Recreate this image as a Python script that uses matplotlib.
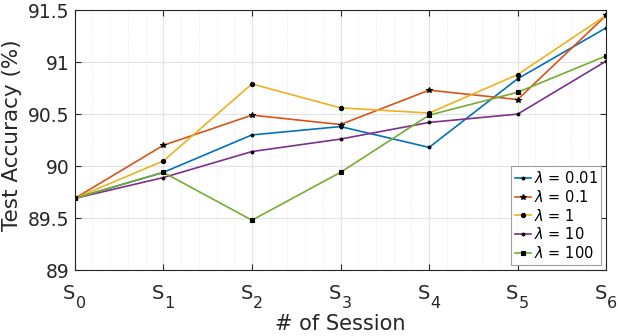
import numpy as np
import matplotlib
matplotlib.use("Agg")
import matplotlib.pyplot as plt
from matplotlib.ticker import MultipleLocator

# ---- Data -------------------------------------------------------------------
session_idx = ["0", "1", "2", "3", "4", "5", "6"]
acc_001 = [89.69, 89.94, 90.30, 90.38, 90.18, 90.84, 91.33]
acc_01  = [89.69, 90.20, 90.49, 90.40, 90.73, 90.64, 91.45]
acc_1   = [89.69, 90.05, 90.79, 90.56, 90.51, 90.88, 91.45]
acc_10  = [89.69, 89.89, 90.14, 90.26, 90.42, 90.50, 91.01]
acc_100 = [89.69, 89.94, 89.48, 89.94, 90.49, 90.71, 91.06]
yticks  = [89, 89.5, 90, 90.5, 91, 91.5]
ylabels = ["89", "89.5", "90", "90.5", "91", "91.5"]

# ---- Colours (MATLAB default order) ------------------------------------------
series = [
    (acc_001, r"$\lambda$ = 0.01", "#0072BD", "."),
    (acc_01,  r"$\lambda$ = 0.1",  "#D95319", "*"),
    (acc_1,   r"$\lambda$ = 1",    "#EDB120", "o"),
    (acc_10,  r"$\lambda$ = 10",   "#7E2F8E", "."),
    (acc_100, r"$\lambda$ = 100",  "#77AC30", "s"),
]
txt_col = "#262626"

fig = plt.figure(figsize=(6.18, 3.36), dpi=100)
ax = fig.add_axes([0.121, 0.196, 0.860, 0.774])

x = np.arange(len(session_idx))
for vals, lab, col, mk in series:
    ms = {".": 4, "*": 4, "o": 3, "s": 2.5}[mk]
    ax.plot(x, vals, color=col, lw=1.2, marker=mk, ms=ms,
            mfc="black", mec="black", mew=0.8, label=lab)

ax.set_xlim(0, 6)
ax.set_ylim(89, 91.5)
ax.set_xticks(x)
ax.set_xticklabels([])
ax.set_yticks(yticks)
ax.set_yticklabels(ylabels)
ax.xaxis.set_minor_locator(MultipleLocator(0.2))

# x tick labels: "S" with a large subscript, MATLAB style
for xi, idx in zip(x, session_idx):
    ax.annotate("S", xy=(xi, 0), xycoords=("data", "axes fraction"),
                xytext=(0.6, -21), textcoords="offset points",
                ha="right", va="baseline", fontsize=14, color=txt_col)
    ax.annotate(idx, xy=(xi, 0), xycoords=("data", "axes fraction"),
                xytext=(0.8, -27.5), textcoords="offset points",
                ha="left", va="baseline", fontsize=11.5, color=txt_col)

ax.grid(True, which="major", color="#e3e3e3", lw=0.8)
ax.grid(True, which="minor", axis="x", color="#e3e3e3", lw=0.6, ls=":")
ax.set_axisbelow(True)

ax.tick_params(which="major", direction="in", top=True, right=True,
               length=4, labelsize=13.5, colors=txt_col, pad=4)
ax.tick_params(which="minor", length=0)
for s in ax.spines.values():
    s.set_color(txt_col)
    s.set_linewidth(0.8)

ax.set_xlabel("# of Session", fontsize=15, color=txt_col, labelpad=27.5)
ax.set_ylabel("Test Accuracy (%)", fontsize=15.5, color=txt_col)
ax.yaxis.set_label_coords(-0.099, 0.52)

leg = ax.legend(loc="lower right", fontsize=10.5, fancybox=False, framealpha=1,
                edgecolor="#a0a0a0", handlelength=1.1, handletextpad=0.2,
                borderpad=0.25, labelspacing=0.2, borderaxespad=0.35)
leg.get_frame().set_linewidth(0.8)

fig.savefig("out.png", dpi=100)
